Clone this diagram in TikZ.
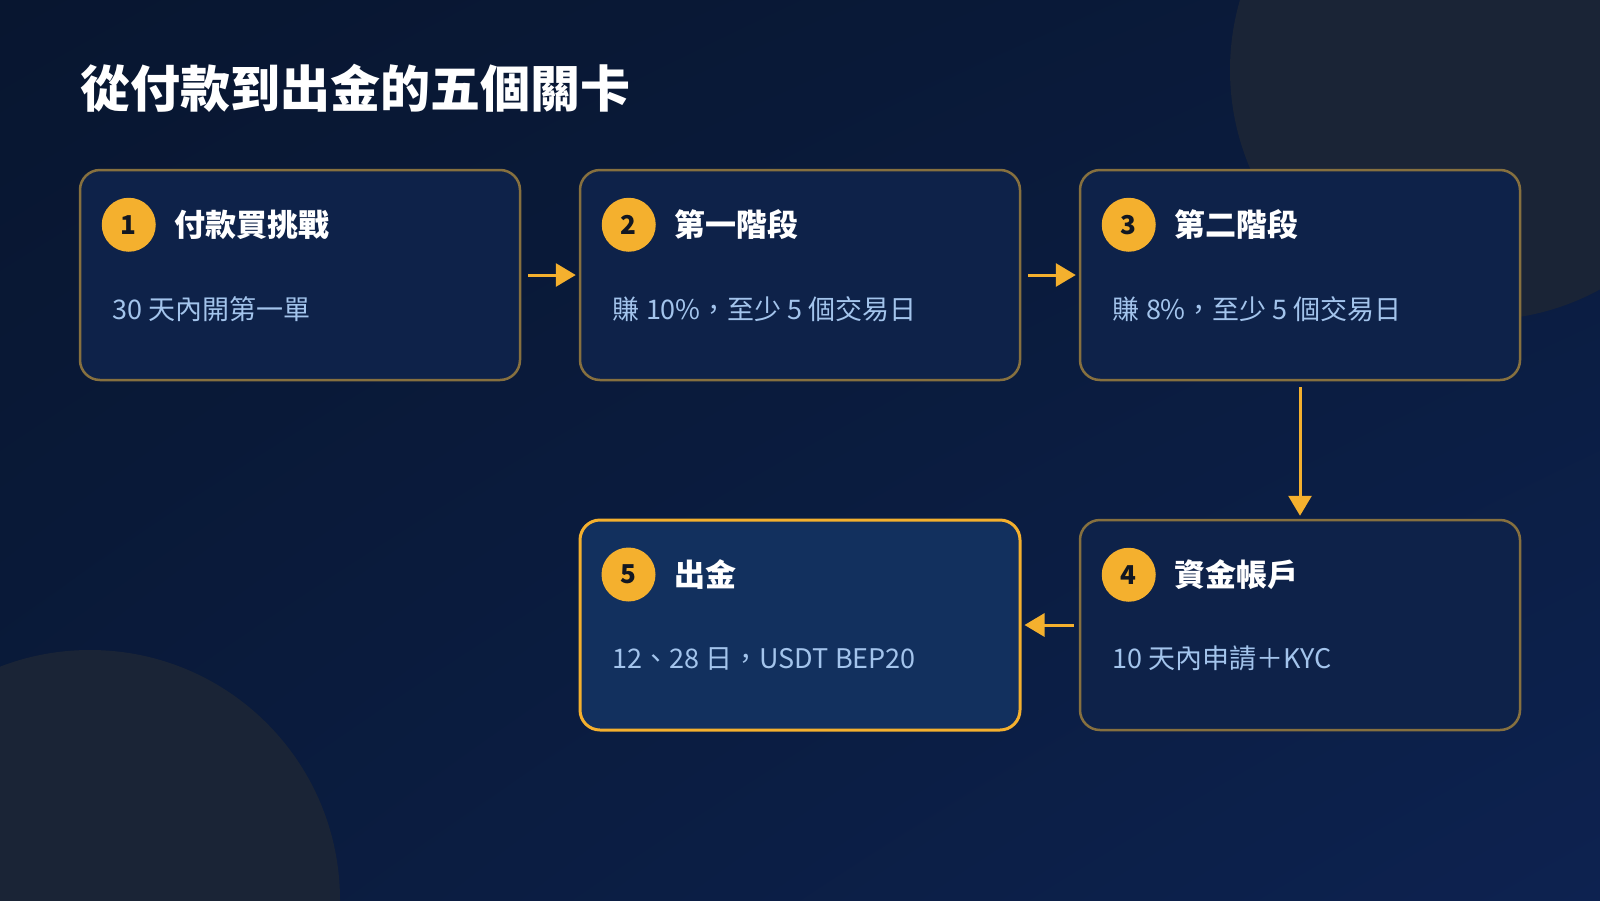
\documentclass[tikz,border=0pt]{standalone}
\usepackage{fontspec}
\setmainfont{Noto Sans CJK TC}
\usetikzlibrary{arrows.meta,shadings}
\definecolor{bgA}{HTML}{081630}
\definecolor{bgB}{HTML}{0A1B3C}
\definecolor{bgC}{HTML}{0D2250}
\definecolor{deco}{HTML}{1A2436}
\definecolor{boxfill}{HTML}{0E2249}
\definecolor{boxfillhi}{HTML}{12305E}
\definecolor{boxline}{HTML}{86703F}
\definecolor{gold}{HTML}{F4B02E}
\definecolor{bodytxt}{HTML}{A3C4EC}
\definecolor{numtxt}{HTML}{121722}
\tikzset{
  stagebox/.style={draw=boxline, line width=2.5pt, fill=boxfill, rounded corners=20pt,
    minimum width=440pt, minimum height=210pt, inner sep=0pt},
  finalbox/.style={stagebox, draw=gold, line width=3pt, fill=boxfillhi},
  badge/.style={circle, fill=gold, minimum size=54pt, inner sep=0pt,
    font=\fontsize{26}{26}\selectfont\bfseries, text=numtxt},
  headtxt/.style={anchor=west, inner sep=0pt, text=white, font=\fontsize{31}{31}\selectfont\bfseries},
  bodytext/.style={anchor=west, inner sep=0pt, text=bodytxt, font=\fontsize{27}{27}\selectfont},
  flow/.style={draw=gold, line width=3pt, -{Triangle[length=20pt,width=23pt]}},
}
\begin{document}
\begin{tikzpicture}[x=1pt,y=-1pt]
\useasboundingbox (0,0) rectangle (1600,900);
\begin{scope}
\clip (0,0) rectangle (1600,900);
\shade[upper left=bgA, upper right=bgB, lower left=bgB, lower right=bgC] (0,0) rectangle (1600,900);
\fill[deco] (1480,70) circle[radius=250];
\fill[deco] (90,900) circle[radius=250];
\end{scope}
\node[anchor=west, inner sep=0pt, text=white, font=\fontsize{50}{50}\selectfont\bfseries] (title) at (80,88) {從付款到出金的五個關卡};

\node[stagebox] (b1) at (300,275) {};
\node[stagebox] (b2) at (800,275) {};
\node[stagebox] (b3) at (1300,275) {};
\node[stagebox] (b4) at (1300,625) {};
\node[finalbox] (b5) at (800,625) {};

\foreach \i/\n/\h/\t in {1/1/付款買挑戰/30 天內開第一單,
                         2/2/第一階段/賺 10\%，至少 5 個交易日,
                         3/3/第二階段/賺 8\%，至少 5 個交易日,
                         4/4/資金帳戶/10 天內申請＋KYC,
                         5/5/出金/12、28 日，USDT BEP20}{
  \node[badge] (c\i) at ([xshift=50pt,yshift=-56pt]b\i.north west) {\n};
  \node[headtxt] (h\i) at ([xshift=96pt,yshift=-56pt]b\i.north west) {\h};
  \node[bodytext] (t\i) at ([xshift=34pt,yshift=-140pt]b\i.north west) {\t};
}

\draw[flow] ([xshift=7pt]b1.east) -- ([xshift=-3pt]b2.west);
\draw[flow] ([xshift=7pt]b2.east) -- ([xshift=-3pt]b3.west);
\draw[flow] ([yshift=-6pt]b3.south) -- ([yshift=3pt]b4.north);
\draw[flow] ([xshift=-5pt]b4.west) -- ([xshift=3pt]b5.east);
\end{tikzpicture}
\end{document}
